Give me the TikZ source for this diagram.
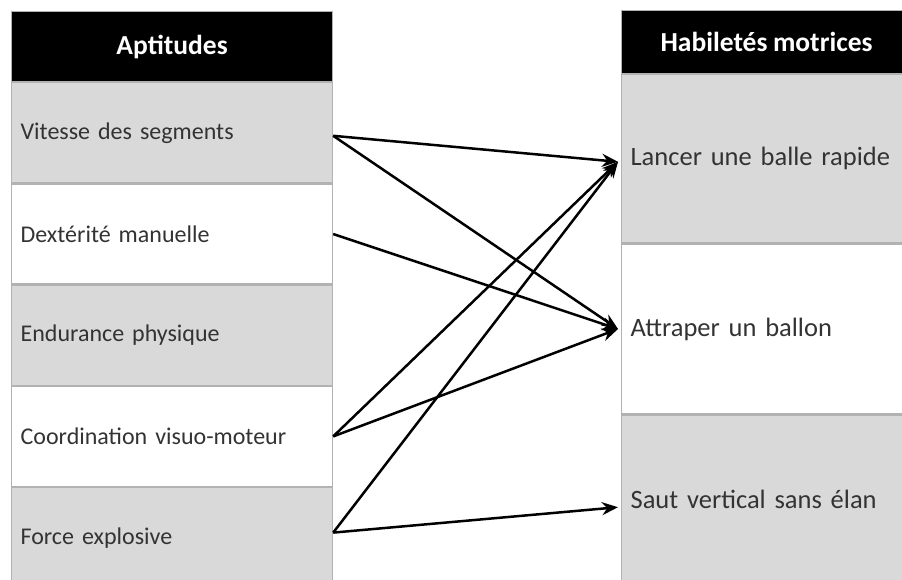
\documentclass[tikz,border=0pt]{standalone}
\usepackage{fontspec}
\setmainfont{Carlito}[WordSpace=0.9]
\usetikzlibrary{positioning,arrows.meta}

\begin{document}
\begin{tikzpicture}[
      x=1pt, y=1pt,
      font=\fontsize{24}{28}\selectfont,
      node distance=0pt,
      head/.style={draw=gray!60, fill=black, text=white, font=\fontsize{27.5}{30}\selectfont\bfseries, line width=1.2pt},
      cell/.style={draw=gray!60, line width=1.2pt, align=left, inner xsep=9pt, text=black!80},
      grey/.style={fill=gray!30},
      lcell/.style={cell, minimum width=321pt, text width=303pt, minimum height=100pt},
      rcell/.style={cell, minimum width=290pt, text width=272pt, font=\fontsize{26.5}{30}\selectfont},
      arrow/.style={-{Stealth[length=16pt, width=13pt]}, line width=2.5pt}
    ]
    \clip (0,0) rectangle (902,-579);

    % aptitudes
    \node[head, minimum width=321pt, minimum height=70pt, anchor=north west] (apt) at (11,-11) {Aptitudes};
    \node[lcell, grey, below=of apt] (vit) {Vitesse des segments};
    \node[lcell, below=of vit]       (dex) {Dextérité manuelle};
    \node[lcell, grey, below=of dex] (endu) {Endurance physique};
    \node[lcell, below=of endu]      (coo) {Coordination visuo-moteur};
    \node[lcell, grey, below=of coo] (foc) {Force explosive};

    % habiletes
    \node[head, minimum width=290pt, minimum height=63pt, anchor=north west] (hab) at (621,-10) {Habiletés motrices};
    \node[rcell, grey, minimum height=168pt, below=of hab] (lan) {Lancer une balle rapide};
    \node[rcell, minimum height=170pt, below=of lan]       (att) {Attraper un ballon};
    \node[rcell, grey, minimum height=168pt, below=of att] (sau) {Saut vertical sans élan};

    \draw[arrow] ([yshift=-3pt]vit.east) -- ([xshift=-3pt,yshift=-3pt]lan.west);
    \draw[arrow] ([yshift=-3pt]vit.east) -- ([xshift=-3pt]att.west);
    \draw[arrow] (dex.east) -- ([xshift=-3pt]att.west);
    \draw[arrow] (coo.east) -- ([xshift=-3pt,yshift=-3pt]lan.west);
    \draw[arrow] (coo.east) -- ([xshift=-3pt]att.west);
    \draw[arrow] ([yshift=5pt]foc.east) -- ([xshift=-3pt,yshift=-3pt]lan.west);
    \draw[arrow] ([yshift=5pt]foc.east) -- ([xshift=-3pt,yshift=-8pt]sau.west);
  \end{tikzpicture}
\end{document}
